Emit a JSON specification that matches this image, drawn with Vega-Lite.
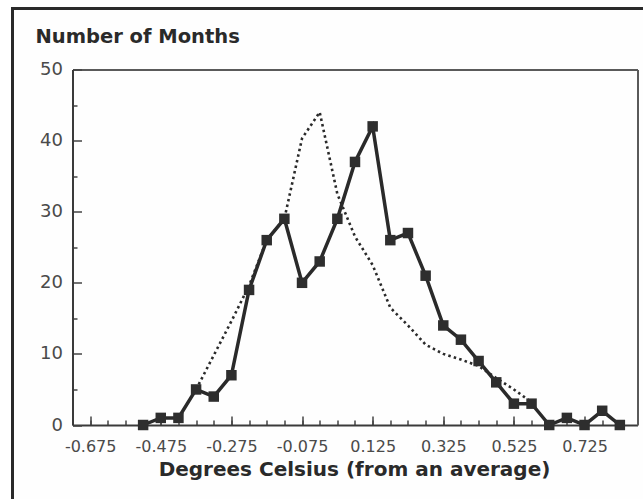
{
  "$schema": "https://vega.github.io/schema/vega-lite/v6.json",
  "autosize": "none",
  "width": 640,
  "height": 500,
  "padding": {"left": 12.5, "top": 8.5, "right": 0, "bottom": 0},
  "background": "#ffffff",
  "config": {
    "font": "DejaVu Sans",
    "view": {"stroke": "#2a2a2a", "strokeWidth": 3, "fill": "#fefefe"}
  },
  "datasets": {
    "observed": [
      {"degrees": -0.525, "months": 0},
      {"degrees": -0.475, "months": 1},
      {"degrees": -0.425, "months": 1},
      {"degrees": -0.375, "months": 5},
      {"degrees": -0.325, "months": 4},
      {"degrees": -0.275, "months": 7},
      {"degrees": -0.225, "months": 19},
      {"degrees": -0.175, "months": 26},
      {"degrees": -0.125, "months": 29},
      {"degrees": -0.075, "months": 20},
      {"degrees": -0.025, "months": 23},
      {"degrees": 0.025, "months": 29},
      {"degrees": 0.075, "months": 37},
      {"degrees": 0.125, "months": 42},
      {"degrees": 0.175, "months": 26},
      {"degrees": 0.225, "months": 27},
      {"degrees": 0.275, "months": 21},
      {"degrees": 0.325, "months": 14},
      {"degrees": 0.375, "months": 12},
      {"degrees": 0.425, "months": 9},
      {"degrees": 0.475, "months": 6},
      {"degrees": 0.525, "months": 3},
      {"degrees": 0.575, "months": 3},
      {"degrees": 0.625, "months": 0},
      {"degrees": 0.675, "months": 1},
      {"degrees": 0.725, "months": 0},
      {"degrees": 0.775, "months": 2},
      {"degrees": 0.825, "months": 0}
    ],
    "expected": [
      {"degrees": -0.375, "months": 5},
      {"degrees": -0.325, "months": 9.8},
      {"degrees": -0.275, "months": 14.6},
      {"degrees": -0.225, "months": 19.6},
      {"degrees": -0.175, "months": 26},
      {"degrees": -0.125, "months": 29},
      {"degrees": -0.075, "months": 40.3},
      {"degrees": -0.025, "months": 44},
      {"degrees": 0.025, "months": 32.5},
      {"degrees": 0.075, "months": 26.5},
      {"degrees": 0.125, "months": 22.5},
      {"degrees": 0.175, "months": 16.5},
      {"degrees": 0.225, "months": 14},
      {"degrees": 0.275, "months": 11.3},
      {"degrees": 0.325, "months": 10},
      {"degrees": 0.375, "months": 9.2},
      {"degrees": 0.425, "months": 8.3},
      {"degrees": 0.475, "months": 6.6},
      {"degrees": 0.525, "months": 5},
      {"degrees": 0.575, "months": 3.2}
    ]
  },
  "layer": [
    {
      "data": {"name": "expected"},
      "mark": {"type": "line", "color": "#2a2a2a", "strokeWidth": 2.6, "strokeDash": [2.5, 3.2]},
      "encoding": {
        "x": {
          "field": "degrees", "type": "quantitative",
          "scale": {"domain": [-0.725, 0.875], "range": [60, 625], "nice": false, "zero": false},
          "axis": {
            "orient": "bottom", "offset": -83.5,
            "values": [-0.725, -0.675, -0.625, -0.575, -0.525, -0.475, -0.425, -0.375, -0.325, -0.275, -0.225, -0.175, -0.125, -0.075, -0.025, 0.025, 0.075, 0.125, 0.175, 0.225, 0.275, 0.325, 0.375, 0.425, 0.475, 0.525, 0.575, 0.625, 0.675, 0.725, 0.775, 0.825],
            "tickSize": -5, "tickColor": "#444", "tickWidth": 1.5,
            "labels": false, "domain": false, "grid": false, "title": null
          }
        },
        "y": {
          "field": "months", "type": "quantitative",
          "scale": {"domain": [0, 50], "range": [416.5, 61], "nice": false},
          "axis": {
            "orient": "left", "offset": -60,
            "values": [5, 15, 25, 35, 45],
            "tickSize": -4.5, "tickColor": "#444", "tickWidth": 1.5,
            "labels": false, "domain": false, "grid": false, "title": null
          }
        }
      }
    },
    {
      "data": {"name": "observed"},
      "mark": {"type": "line", "color": "#2a2a2a", "strokeWidth": 3.5},
      "encoding": {
        "x": {
          "field": "degrees", "type": "quantitative",
          "scale": {"domain": [-0.725, 0.875], "range": [60, 625], "nice": false, "zero": false},
          "axis": {
            "orient": "bottom", "offset": -83.5,
            "values": [-0.675, -0.475, -0.275, -0.075, 0.125, 0.325, 0.525, 0.725],
            "format": ".3f",
            "labelExpr": "replace(datum.label, '\u2212', '-')",
            "tickSize": -9, "tickColor": "#444", "tickWidth": 1.5,
            "labelPadding": 22, "labelFontSize": 16, "labelColor": "#4a4a4a", "labelFont": "DejaVu Sans",
            "domain": true, "domainColor": "#3a3a3a", "domainWidth": 2, "grid": false,
            "title": "Degrees Celsius (from an average)",
            "titleFont": "DejaVu Sans", "titleFontSize": 20, "titleFontWeight": "bold", "titleColor": "#2a2a2a",
            "titleX": 341.5, "titleY": 50, "titleAlign": "center", "titleBaseline": "alphabetic", "titleAnchor": null
          }
        },
        "y": {
          "field": "months", "type": "quantitative",
          "scale": {"domain": [0, 50], "range": [416.5, 61], "nice": false},
          "axis": {
            "orient": "left", "offset": -60,
            "values": [0, 10, 20, 30, 40, 50],
            "tickSize": -9, "tickColor": "#444", "tickWidth": 1.5,
            "labelPadding": 19, "labelFontSize": 18, "labelColor": "#4a4a4a", "labelFont": "DejaVu Sans",
            "domain": true, "domainColor": "#3a3a3a", "domainWidth": 2, "grid": false,
            "title": "Number of Months",
            "titleFont": "DejaVu Sans", "titleFontSize": 19.5, "titleFontWeight": "bold", "titleColor": "#2a2a2a",
            "titleAngle": 0, "titleX": -37.5, "titleY": 34, "titleAlign": "left", "titleBaseline": "alphabetic", "titleAnchor": null
          }
        }
      }
    },
    {
      "data": {"name": "observed"},
      "mark": {"type": "point", "shape": "square", "filled": true, "size": 110, "color": "#2e2e2e", "opacity": 1},
      "encoding": {
        "x": {
          "field": "degrees", "type": "quantitative",
          "scale": {"domain": [-0.725, 0.875], "range": [60, 625], "nice": false, "zero": false},
          "axis": {
            "orient": "top", "offset": -61,
            "ticks": false, "labels": false, "grid": false, "title": null,
            "domain": true, "domainColor": "#5a5a5a", "domainWidth": 2
          }
        },
        "y": {
          "field": "months", "type": "quantitative",
          "scale": {"domain": [0, 50], "range": [416.5, 61], "nice": false},
          "axis": {
            "orient": "right", "offset": -15,
            "ticks": false, "labels": false, "grid": false, "title": null,
            "domain": true, "domainColor": "#5a5a5a", "domainWidth": 2
          }
        }
      }
    }
  ],
  "resolve": {"axis": {"x": "independent", "y": "independent"}}
}
